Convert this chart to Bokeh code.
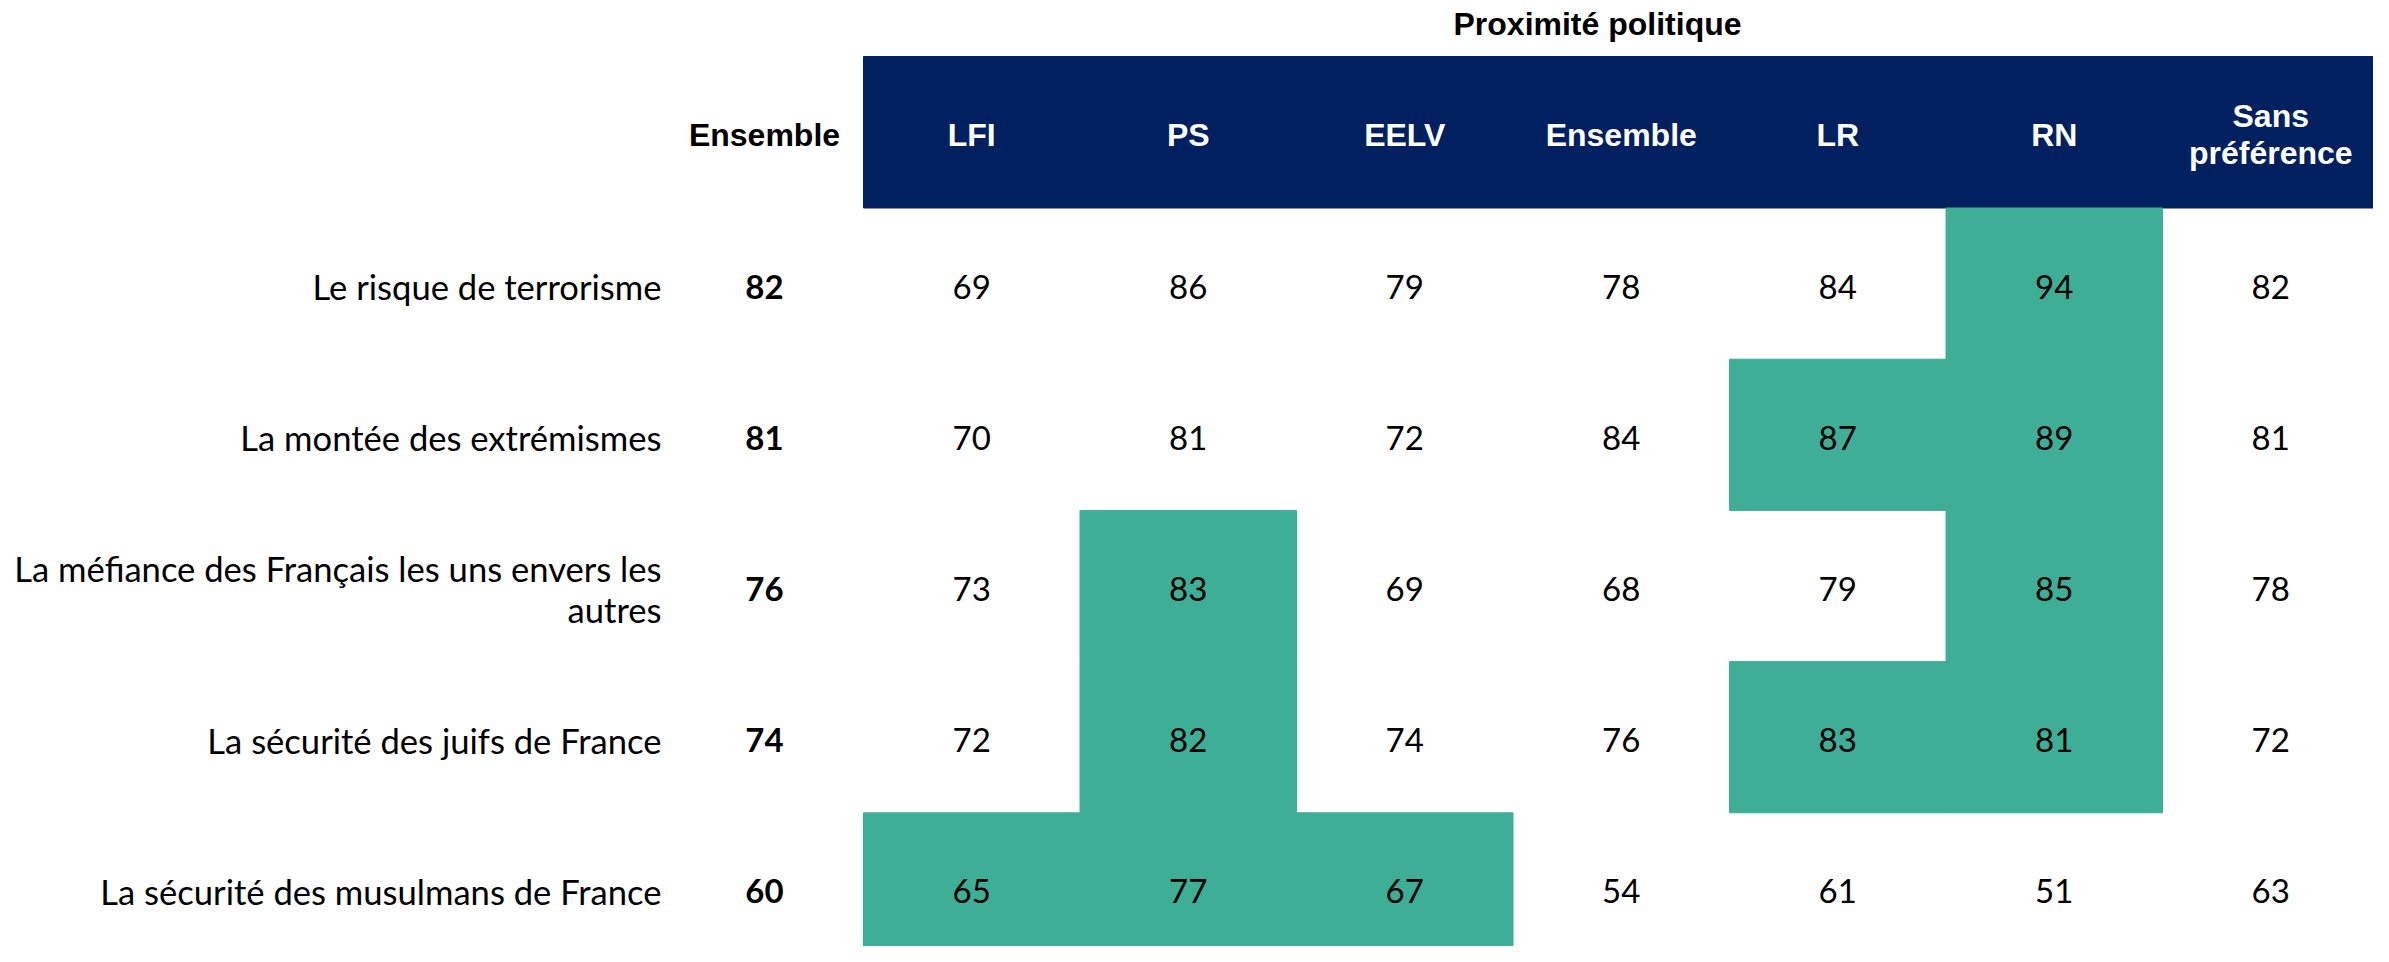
from bokeh.plotting import figure
from bokeh.models import Range1d, ColumnDataSource
from bokeh.core.properties import value
from bokeh.embed import file_html
from bokeh.resources import INLINE

# ---------------- data ----------------
title = "Proximité politique"
total_label = "Ensemble"
parties = ["LFI", "PS", "EELV", "Ensemble", "LR", "RN", "Sans\npréférence"]
items = [
    "Le risque de terrorisme",
    "La montée des extrémismes",
    "La méfiance des Français les uns envers les\nautres",
    "La sécurité des juifs de France",
    "La sécurité des musulmans de France",
]
total = [82, 81, 76, 74, 60]
lfi = [69, 70, 73, 72, 65]
ps = [86, 81, 83, 82, 77]
eelv = [79, 72, 69, 74, 67]
ensemble = [78, 84, 68, 76, 54]
lr = [84, 87, 79, 83, 61]
rn = [94, 89, 85, 81, 51]
sans_pref = [82, 81, 78, 72, 63]
# highlighted (significantly higher) cells: party indexes per row
highlight = [
    [5],
    [4, 5],
    [1, 5],
    [1, 4, 5],
    [0, 1, 2],
]

series = [lfi, ps, eelv, ensemble, lr, rn, sans_pref]

# ---------------- layout ----------------
W, H = 2373, 946
NAVY = "#002060"
GREEN = "#3EAE96"

col_left = 863.0
col_w = 216.5
head_top = 56.0
head_bot = 207.5
row_h = 151.2
total_x = 764.0
label_x = 661.0

p = figure(width=W, height=H, output_backend="svg", toolbar_location=None,
           x_range=Range1d(0, W), y_range=Range1d(H, 0),
           min_border=0)
p.axis.visible = False
p.grid.visible = False
p.outline_line_color = None
p.background_fill_color = "white"
p.border_fill_color = "white"

n_rows = len(items)
n_cols = len(parties)
row_y = [head_bot + row_h * (r + 0.5) for r in range(n_rows)]
col_x = [col_left + col_w * (c + 0.5) for c in range(n_cols)]

# header band
p.quad(left=[col_left], right=[col_left + col_w * n_cols], top=[head_top], bottom=[head_bot],
       fill_color=NAVY, line_color=NAVY)

# highlighted cells
hx, hy = [], []
for r, cols in enumerate(highlight):
    for c in cols:
        hx.append(col_x[c])
        hy.append(row_y[r])
p.rect(x=hx, y=hy, width=col_w, height=row_h, fill_color=GREEN, line_color=GREEN, line_width=1)

head_font = value("Liberation Sans")
body_font = value("Lato")

# title
p.text(x=[1597], y=[23], text=[title], text_font=head_font,
       text_font_size="32px", text_font_style="bold", text_color="black",
       text_align="center", text_baseline="middle")

# header labels
head_y = 134.0
p.text(x=col_x, y=[head_y] * n_cols, text=parties, text_font=head_font,
       text_font_size="32px", text_font_style="bold", text_color="white",
       text_align="center", text_baseline="middle", text_line_height=1.03)
p.text(x=[total_x], y=[head_y], text=[total_label], text_font=head_font,
       text_font_size="32px", text_font_style="bold", text_color="black",
       text_align="center", text_baseline="middle")

# row labels
p.text(x=[label_x] * n_rows, y=[y + 3 for y in row_y], text=items, text_font=body_font,
       text_font_size="34.6px", text_color="black", text_align="right",
       text_baseline="middle", text_line_height=1.0)

# total column (bold)
p.text(x=[total_x] * n_rows, y=[y + 3 for y in row_y], text=[str(v) for v in total],
       text_font=body_font, text_font_size="33px", text_font_style="bold",
       text_color="black", text_align="center", text_baseline="middle")

# party values
vx, vy, vt = [], [], []
for c, s in enumerate(series):
    for r, v in enumerate(s):
        vx.append(col_x[c])
        vy.append(row_y[r] + 3)
        vt.append(str(v))
src = ColumnDataSource(dict(x=vx, y=vy, t=vt))
p.text(x="x", y="y", text="t", source=src, text_font=body_font, text_font_size="33px",
       text_color="black", text_align="center", text_baseline="middle")

open("out.html", "w").write(file_html(p, INLINE))
